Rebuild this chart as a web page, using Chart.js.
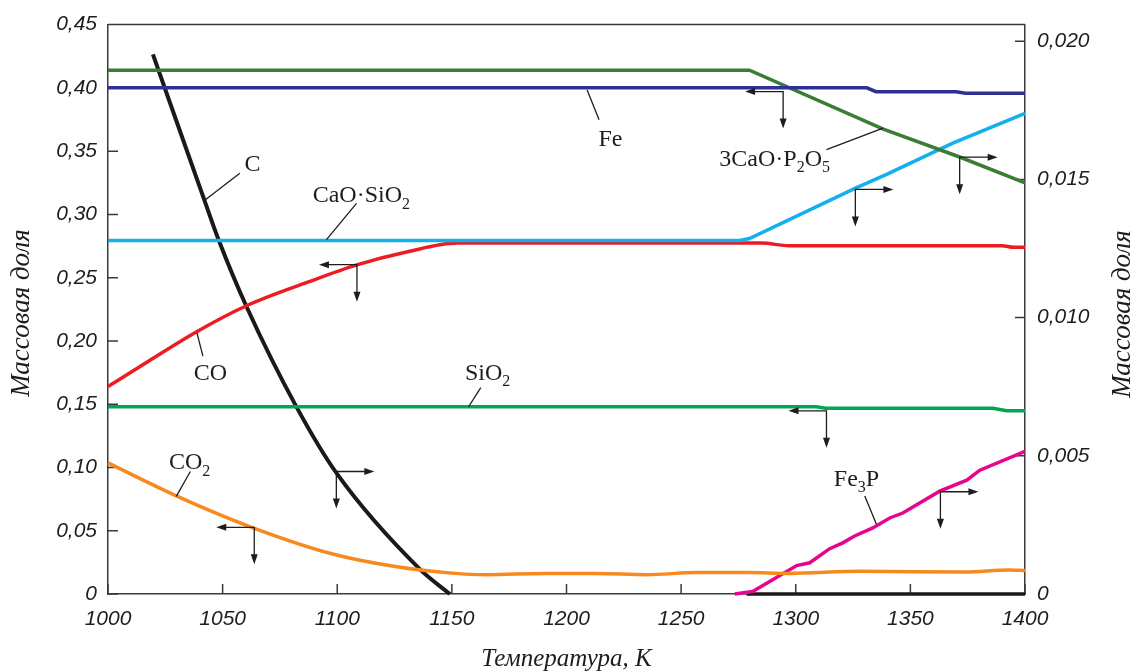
<!DOCTYPE html>
<html>
<head>
<meta charset="utf-8">
<script src="https://cdn.jsdelivr.net/npm/chart.js@4.4.1/dist/chart.umd.min.js"></script>
<style>
  html, body { margin: 0; padding: 0; background: #fff; }
  #chart { display: block; }
</style>
</head>
<body>
<canvas id="chart" width="1134" height="672"></canvas>
<script>
// x axis: temperature, K
const xMin = 1000, xMax = 1400, xStep = 50;
// left axis (mass fraction)
const yLeftMax = 0.45, yLeftStep = 0.05;
// right axis (mass fraction)
const yRightMax = 0.0206, yRightStep = 0.005;

// --- left-axis series ---
const tFe = [1000, 1331, 1335, 1370, 1374, 1400];
const vFe = [0.400, 0.400, 0.397, 0.397, 0.3957, 0.3957];

const tCO = [1000, 1013.8, 1038.5, 1060.2, 1087.1, 1108.9, 1130.7, 1152.5, 1285, 1297, 1390, 1395, 1400];
const vCO = [0.164, 0.1796, 0.2071, 0.2276, 0.2464, 0.2603, 0.2705, 0.2773, 0.2773, 0.2753, 0.2753, 0.274, 0.274];

const tSiO2 = [1000, 1309, 1313, 1386, 1392, 1400];
const vSiO2 = [0.1479, 0.1479, 0.1468, 0.1468, 0.1448, 0.1448];

const tCO2 = [1000, 1030, 1063, 1098, 1126, 1150, 1165, 1191, 1213, 1235, 1257, 1279, 1297, 1328, 1374, 1393, 1400];
const vCO2 = [0.1036, 0.0774, 0.0525, 0.0316, 0.0215, 0.0165, 0.0153, 0.0163, 0.0163, 0.0153, 0.0169, 0.0169, 0.0163, 0.0179, 0.0174, 0.019, 0.0185];

// --- right-axis series ---
const tC = [1019.6, 1042.0, 1048.4, 1060.4, 1082.2, 1099.7, 1136, 1149.1];
const vC = [0.01952, 0.01426, 0.01278, 0.01040, 0.00677, 0.00437, 0.0009, 0];

const tCaSi = [1000, 1275.6, 1279.8, 1326.3, 1339.4, 1368.5, 1400];
const vCaSi = [0.01279, 0.01279, 0.01286, 0.01469, 0.01517, 0.01631, 0.01739];

const tCaP = [1000, 1279.8, 1338.2, 1371.5, 1400];
const vCaP = [0.01895, 0.01895, 0.01682, 0.01581, 0.01487];

const tFe3P = [1273.4, 1281.2, 1300.4, 1306.1, 1314.8, 1320.5, 1325.7, 1333.6, 1341, 1346.7, 1362.8, 1374.6, 1380.3, 1400];
const vFe3P = [0, 0.00009, 0.00103, 0.00113, 0.00164, 0.00185, 0.0021, 0.00239, 0.00275, 0.00293, 0.00372, 0.00412, 0.00448, 0.00516];

const tZero = [1278.5, 1400];
const vZero = [0, 0];

const pts = (t, v) => t.map((x, i) => ({ x: x, y: v[i] }));

// curve labels: text centre, leader line (from, to) in x / left-axis units
const curveLabels = [
  { text: 'C',            at: [1063.0, 0.3402], from: [1057.5, 0.3326], to: [1042.5, 0.3116] },
  { text: 'CaO·SiO_2',    at: [1110.5, 0.3157], from: [1108.4, 0.3087], to: [1095.3, 0.2801] },
  { text: 'CO',           at: [1044.7, 0.1754], from: [1041.4, 0.1880], to: [1038.8, 0.2063] },
  { text: 'CO_2',         at: [1035.6, 0.1052], from: [1035.9, 0.0968], to: [1029.8, 0.0771] },
  { text: 'Fe',           at: [1219.2, 0.3604], from: [1214.2, 0.3748], to: [1209.0, 0.3983] },
  { text: '3CaO·P_2O_5',  at: [1290.8, 0.3447], from: [1313.4, 0.3512], to: [1338.1, 0.3682] },
  { text: 'SiO_2',        at: [1165.6, 0.1757], from: [1162.6, 0.1631], to: [1157.3, 0.1480] },
  { text: 'Fe_3P',        at: [1326.5, 0.0918], from: [1330.1, 0.0774], to: [1335.2, 0.0552] }
];

// axis pointers: corner on the curve, horizontal arrow shows which axis
const axisPointers = [
  { at: [1099.6, 0.0968], dir: 1 },
  { at: [1063.8, 0.0527], dir: -1 },
  { at: [1108.6, 0.2603], dir: -1 },
  { at: [1294.5, 0.3971], dir: -1 },
  { at: [1371.5, 0.3452], dir: 1 },
  { at: [1326.0, 0.3197], dir: 1 },
  { at: [1313.4, 0.1448], dir: -1 },
  { at: [1363.1, 0.0808], dir: 1 }
];

const ink = '#1f1c1d';

function chemText(ctx, s, cx, cy, size) {
  const runs = [];
  for (let i = 0; i < s.length; i++) {
    if (s[i] === '_') { runs.push({ t: s[i + 1], sub: true }); i++; }
    else runs.push({ t: s[i], sub: false });
  }
  const big = `${size}px "Liberation Serif", "Times New Roman", serif`;
  const small = `${Math.round(size * 0.66)}px "Liberation Serif", "Times New Roman", serif`;
  let w = 0;
  runs.forEach(r => { ctx.font = r.sub ? small : big; r.w = ctx.measureText(r.t).width; w += r.w; });
  let x = cx - w / 2;
  const base = cy + size * 0.33;
  ctx.textAlign = 'left';
  ctx.textBaseline = 'alphabetic';
  runs.forEach(r => {
    ctx.font = r.sub ? small : big;
    ctx.fillText(r.t, x, r.sub ? base + size * 0.28 : base);
    x += r.w;
  });
}

function arrowHead(ctx, x, y, dx, dy) {
  const len = 10, hw = 3.5;
  ctx.beginPath();
  ctx.moveTo(x, y);
  ctx.lineTo(x - dx * len - dy * hw, y - dy * len + dx * hw);
  ctx.lineTo(x - dx * len + dy * hw, y - dy * len - dx * hw);
  ctx.closePath();
  ctx.fill();
}

const frameAndTicks = {
  id: 'frameAndTicks',
  beforeDatasetsDraw(chart) {
    const { ctx, chartArea: a, scales } = chart;
    ctx.save();
    ctx.strokeStyle = '#3a3a3a';
    ctx.lineWidth = 1.5;
    ctx.beginPath();
    ctx.moveTo(a.left, a.top);
    ctx.lineTo(a.right, a.top);
    scales.x.ticks.forEach(t => {
      const px = scales.x.getPixelForValue(t.value);
      ctx.moveTo(px, a.bottom); ctx.lineTo(px, a.bottom - 10);
    });
    scales.y.ticks.forEach(t => {
      const py = scales.y.getPixelForValue(t.value);
      ctx.moveTo(a.left, py); ctx.lineTo(a.left + 10, py);
    });
    scales.y1.ticks.forEach(t => {
      const py = scales.y1.getPixelForValue(t.value);
      ctx.moveTo(a.right, py); ctx.lineTo(a.right - 10, py);
    });
    ctx.stroke();
    ctx.restore();
  },
  afterDatasetsDraw(chart) {
    const { ctx, scales: { x, y } } = chart;
    const P = p => [x.getPixelForValue(p[0]), y.getPixelForValue(p[1])];
    ctx.save();
    ctx.strokeStyle = ink;
    ctx.fillStyle = ink;
    ctx.lineWidth = 1.3;
    curveLabels.forEach(l => {
      const f = P(l.from), t = P(l.to), c = P(l.at);
      ctx.beginPath(); ctx.moveTo(f[0], f[1]); ctx.lineTo(t[0], t[1]); ctx.stroke();
      chemText(ctx, l.text, c[0], c[1], 24);
    });
    axisPointers.forEach(p => {
      const [px, py] = P(p.at);
      const hx = px + p.dir * 38, vy = py + 37;
      ctx.beginPath();
      ctx.moveTo(hx - p.dir * 8, py); ctx.lineTo(px, py); ctx.lineTo(px, vy - 8);
      ctx.stroke();
      arrowHead(ctx, hx, py, p.dir, 0);
      arrowHead(ctx, px, vy, 0, 1);
    });
    ctx.restore();
  },
  afterDraw(chart) {
    const { ctx, chartArea: a } = chart;
    ctx.save();
    ctx.fillStyle = ink;
    ctx.textAlign = 'center';
    ctx.textBaseline = 'middle';
    ctx.font = 'italic 27px "Liberation Serif", "Times New Roman", serif';
    [[22, 313], [1123, 314]].forEach(([cx, cy]) => {
      ctx.save();
      ctx.translate(cx, cy);
      ctx.rotate(-Math.PI / 2);
      ctx.fillText('Массовая доля', 0, 0);
      ctx.restore();
    });
    ctx.font = 'italic 25px "Liberation Serif", "Times New Roman", serif';
    ctx.fillText('Температура, К', (a.left + a.right) / 2, 659);
    ctx.restore();
  }
};

const tickFont = { family: '"Liberation Sans", Arial, sans-serif', size: 21, style: 'italic' };
const border = { display: true, color: '#3a3a3a', width: 1.5 };

new Chart(document.getElementById('chart'), {
  type: 'line',
  data: {
    datasets: [
      { label: 'Fe', data: pts(tFe, vFe), yAxisID: 'y', borderColor: '#2e3192', tension: 0 },
      { label: '3CaO·P2O5', data: pts(tCaP, vCaP), yAxisID: 'y1', borderColor: '#3b7d34', tension: 0 },
      { label: 'CaO·SiO2', data: pts(tCaSi, vCaSi), yAxisID: 'y1', borderColor: '#13b0ec', tension: 0 },
      { label: 'CO', data: pts(tCO, vCO), yAxisID: 'y', borderColor: '#ec1c24', cubicInterpolationMode: 'monotone' },
      { label: 'SiO2', data: pts(tSiO2, vSiO2), yAxisID: 'y', borderColor: '#00a651', tension: 0 },
      { label: 'CO2', data: pts(tCO2, vCO2), yAxisID: 'y', borderColor: '#f7891f', cubicInterpolationMode: 'monotone' },
      { label: 'Fe3P', data: pts(tFe3P, vFe3P), yAxisID: 'y1', borderColor: '#e8048c', tension: 0 },
      { label: 'zero', data: pts(tZero, vZero), yAxisID: 'y1', borderColor: '#1a1a1a', tension: 0 },
      { label: 'C', data: pts(tC, vC), yAxisID: 'y1', borderColor: '#1a1a1a', cubicInterpolationMode: 'monotone', borderWidth: 4 }
    ]
  },
  options: {
    responsive: false,
    animation: false,
    devicePixelRatio: 1,
    layout: { padding: { top: 22, left: 0, right: 0, bottom: 0 } },
    datasets: { line: { borderWidth: 3.5, pointRadius: 0, fill: false, clip: 6 } },
    plugins: { legend: { display: false }, tooltip: { enabled: false } },
    scales: {
      x: {
        type: 'linear', min: xMin, max: xMax,
        afterFit: s => { s.height = 78; },
        grid: { display: false, drawTicks: false },
        border: border,
        ticks: { stepSize: xStep, font: tickFont, color: ink, padding: 13, maxRotation: 0, callback: v => String(v) }
      },
      y: {
        type: 'linear', position: 'left', min: 0, max: yLeftMax,
        afterFit: s => { s.width = 108; },
        grid: { display: false, drawTicks: false },
        border: border,
        ticks: {
          stepSize: yLeftStep, font: tickFont, color: ink, padding: 11,
          callback: v => v === 0 ? '0' : v.toFixed(2).replace('.', ',')
        }
      },
      y1: {
        type: 'linear', position: 'right', min: 0, max: yRightMax,
        afterFit: s => { s.width = 109; },
        grid: { display: false, drawTicks: false },
        border: border,
        ticks: {
          stepSize: yRightStep, includeBounds: false, font: tickFont, color: ink, padding: 12,
          callback: v => v === 0 ? '0' : v.toFixed(3).replace('.', ',')
        }
      }
    }
  },
  plugins: [frameAndTicks]
});
</script>
</body>
</html>
